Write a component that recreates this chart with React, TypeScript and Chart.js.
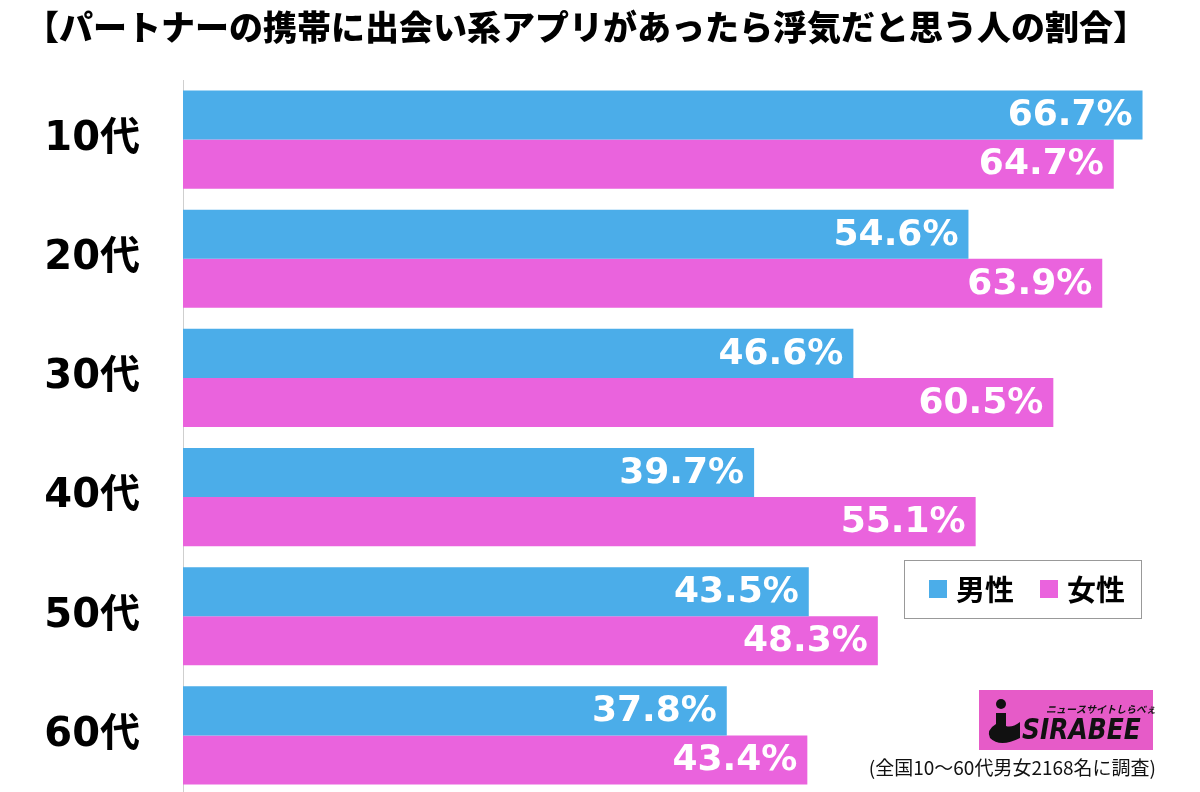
import React, { useEffect, useRef } from "react";
import { Chart, registerables } from "chart.js";

Chart.register(...registerables);

const TITLE = "【パートナーの携帯に出会い系アプリがあったら浮気だと思う人の割合】";
const categories = ["10代", "20代", "30代", "40代", "50代", "60代"];
const maleValues = [66.7, 54.6, 46.6, 39.7, 43.5, 37.8];
const femaleValues = [64.7, 63.9, 60.5, 55.1, 48.3, 43.4];
const seriesLabels = ["男性", "女性"];
const seriesColors = ["#4BADE9", "#EA63DD"];
const NOTE = "(全国10〜60代男女2168名に調査)";

const CJK = '"Noto Sans CJK JP", "Noto Sans CJK SC", sans-serif';

const overlayPlugin = {
  id: "overlay",
  afterDatasetsDraw(chart: any) {
    const ctx = chart.ctx as CanvasRenderingContext2D;
    ctx.save();
    chart.data.datasets.forEach((ds: any, di: number) => {
      const meta = chart.getDatasetMeta(di);
      meta.data.forEach((bar: any, i: number) => {
        const v = ds.data[i];
        ctx.font = 'bold 36px "DejaVu Sans", sans-serif';
        ctx.fillStyle = "#ffffff";
        ctx.textAlign = "right";
        ctx.textBaseline = "middle";
        ctx.fillText(v.toFixed(1) + "%", bar.x - 10, bar.y + 1);
      });
    });
    ctx.restore();
  },
  afterDraw(chart: any) {
    const ctx = chart.ctx as CanvasRenderingContext2D;
    ctx.save();
    // title
    ctx.font = "900 34px " + CJK;
    ctx.fillStyle = "#000";
    ctx.textAlign = "center";
    ctx.textBaseline = "middle";
    ctx.fillText(TITLE, 586, 27);

    // legend box
    ctx.setLineDash([1, 1]);
    ctx.strokeStyle = "#333";
    ctx.lineWidth = 1;
    ctx.strokeRect(904.5, 560.5, 237, 58);
    ctx.setLineDash([]);
    const items = chart.data.datasets;
    const xs = [929, 1040];
    items.forEach((ds: any, i: number) => {
      ctx.fillStyle = ds.backgroundColor;
      ctx.fillRect(xs[i], 580, 18, 18);
      ctx.fillStyle = "#000";
      ctx.font = "bold 29px " + CJK;
      ctx.textAlign = "left";
      ctx.textBaseline = "middle";
      ctx.fillText(ds.label, xs[i] + 27, 590);
    });

    // logo
    ctx.fillStyle = "#E65BC8";
    ctx.fillRect(979, 690, 174, 60);
    ctx.fillStyle = "#111";
    ctx.font = "italic bold 10px " + CJK;
    ctx.textAlign = "left";
    ctx.textBaseline = "middle";
    ctx.fillText("ニュースサイトしらべぇ", 1046, 709);
    ctx.textBaseline = "alphabetic";
    ctx.save();
    ctx.translate(1022, 739);
    ctx.scale(0.89, 1);
    ctx.font = 'italic bold 28px "DejaVu Sans", sans-serif';
    ctx.fillText("SIRABEE", 0, 0);
    ctx.restore();
    // i-shaped mark
    ctx.beginPath();
    ctx.arc(1001, 704, 5, 0, Math.PI * 2);
    ctx.fill();
    ctx.beginPath();
    ctx.moveTo(996, 713);
    ctx.lineTo(1006, 713);
    ctx.lineTo(1006, 726);
    ctx.quadraticCurveTo(1012, 728, 1020, 722);
    ctx.lineTo(1020, 738);
    ctx.quadraticCurveTo(1000, 748, 990, 738);
    ctx.quadraticCurveTo(986, 730, 996, 724);
    ctx.closePath();
    ctx.fill();

    // note
    ctx.fillStyle = "#111";
    ctx.font = "19px " + CJK;
    ctx.textAlign = "right";
    ctx.textBaseline = "middle";
    ctx.fillText(NOTE, 1156, 768);
    ctx.restore();
  },
};

export default function App() {
  const ref = useRef<HTMLCanvasElement | null>(null);
  useEffect(() => {
    if (!ref.current) return;
    const chart = new Chart(ref.current, {
      type: "bar",
      data: {
        labels: categories,
        datasets: [
          { label: seriesLabels[0], data: maleValues, backgroundColor: seriesColors[0] },
          { label: seriesLabels[1], data: femaleValues, backgroundColor: seriesColors[1] },
        ],
      },
      options: {
        indexAxis: "y",
        responsive: false,
        animation: false,
        events: [],
        layout: { autoPadding: false, padding: { top: 80, right: 10, bottom: 0, left: 0 } },
        datasets: { bar: { categoryPercentage: 0.824, barPercentage: 1 } },
        plugins: {
          legend: { display: false },
          title: { display: false },
          tooltip: { enabled: false },
        },
        scales: {
          x: { display: false, min: 0, max: 70 },
          y: {
            afterFit(scale: any) {
              scale.width = 183;
              scale.paddingTop = 0;
              scale.paddingBottom = 0;
            },
            grid: { display: false, drawTicks: false },
            border: { display: true, color: "#cfcfcf", width: 1 },
            ticks: {
              padding: 43,
              color: "#000",
              font: { family: '"DejaVu Sans", "Noto Sans CJK JP", sans-serif', weight: "bold", size: 40 },
            },
          },
        },
      } as any,
      plugins: [overlayPlugin],
    });
    return () => chart.destroy();
  }, []);
  return (
    <div style={{ position: "fixed", left: 0, top: 0, width: 1200, height: 792, overflow: "hidden", background: "#fff" }}>
      <canvas ref={ref} width={1200} height={795} style={{ display: "block" }} />
    </div>
  );
}
